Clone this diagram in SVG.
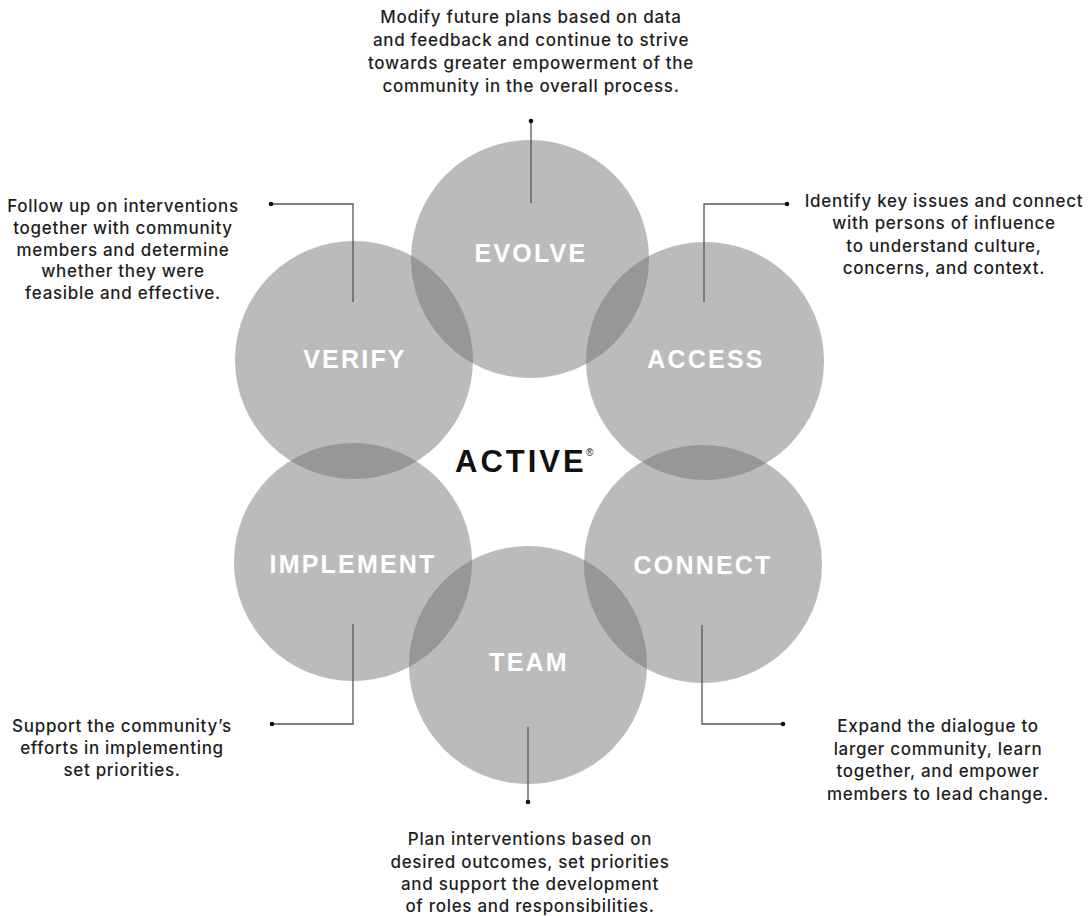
<svg xmlns="http://www.w3.org/2000/svg" width="1092" height="916" viewBox="0 0 1092 916">
  <style>
    .disc { fill: #6e6e6e; fill-opacity: 0.47; }
    .label { font-family: "Liberation Sans", Arial, sans-serif; font-weight: bold; font-size: 25px; letter-spacing: 2.2px; fill: #ffffff; text-anchor: middle; }
    .note { font-family: Inter, "Liberation Sans", sans-serif; font-size: 17px; font-weight: 500; letter-spacing: 0.7px; fill: #1e1e1e; text-anchor: middle; }
    .lead { fill: none; stroke: #555555; stroke-width: 1.3; }
    .dot { fill: #111111; }
    .brand { font-family: "Liberation Sans", Arial, sans-serif; font-weight: bold; font-size: 31px; letter-spacing: 3px; fill: #111111; }
    .reg { font-family: "Liberation Sans", Arial, sans-serif; font-size: 10px; fill: #111111; }
  </style>

  <rect width="1092" height="916" fill="#ffffff"/>

  <!-- six overlapping stage circles -->
  <g id="evolve">
    <circle class="disc" cx="530" cy="259" r="119"/>
    <text class="label" x="531" y="262">EVOLVE</text>
  </g>
  <g id="access">
    <circle class="disc" cx="705" cy="361" r="119"/>
    <text class="label" x="706" y="368">ACCESS</text>
  </g>
  <g id="connect">
    <circle class="disc" cx="703" cy="564" r="119"/>
    <text class="label" x="703" y="574">CONNECT</text>
  </g>
  <g id="team">
    <circle class="disc" cx="528" cy="665" r="119"/>
    <text class="label" x="529" y="671">TEAM</text>
  </g>
  <g id="implement">
    <circle class="disc" cx="353" cy="562" r="119"/>
    <text class="label" x="353" y="573">IMPLEMENT</text>
  </g>
  <g id="verify">
    <circle class="disc" cx="354" cy="360" r="119"/>
    <text class="label" x="355" y="368">VERIFY</text>
  </g>

  <!-- centre mark -->
  <g id="active">
    <text class="brand" x="455" y="472">ACTIVE</text>
    <text class="reg" x="586" y="456">®</text>
  </g>

  <!-- leader lines from circles to descriptions -->
  <g id="connectors">
    <path class="lead" d="M531 121 V203"/>
    <circle class="dot" cx="531" cy="121" r="2.3"/>

    <path class="lead" d="M271 204 H353 V302"/>
    <circle class="dot" cx="271" cy="204" r="2.3"/>

    <path class="lead" d="M787 204 H704 V302"/>
    <circle class="dot" cx="787" cy="204" r="2.3"/>

    <path class="lead" d="M353 624 V724 H272"/>
    <circle class="dot" cx="272" cy="724" r="2.3"/>

    <path class="lead" d="M702 625 V724 H783"/>
    <circle class="dot" cx="783" cy="724" r="2.3"/>

    <path class="lead" d="M528 727 V802"/>
    <circle class="dot" cx="528" cy="802" r="2.3"/>
  </g>

  <!-- descriptions -->
  <g id="evolve-note">
    <text class="note" x="531" y="23">Modify future plans based on data</text>
    <text class="note" x="531" y="46">and feedback and continue to strive</text>
    <text class="note" x="531" y="69">towards greater empowerment of the</text>
    <text class="note" x="531" y="92">community in the overall process.</text>
  </g>
  <g id="verify-note">
    <text class="note" x="123" y="212">Follow up on interventions</text>
    <text class="note" x="123" y="234">together with community</text>
    <text class="note" x="123" y="255.5">members and determine</text>
    <text class="note" x="123" y="277">whether they were</text>
    <text class="note" x="123" y="299">feasible and effective.</text>
  </g>
  <g id="access-note">
    <text class="note" x="944" y="207">Identify key issues and connect</text>
    <text class="note" x="944" y="229">with persons of influence</text>
    <text class="note" x="944" y="251.5">to understand culture,</text>
    <text class="note" x="944" y="273.5">concerns, and context.</text>
  </g>
  <g id="implement-note">
    <text class="note" x="122" y="732">Support the community’s</text>
    <text class="note" x="122" y="754">efforts in implementing</text>
    <text class="note" x="122" y="776">set priorities.</text>
  </g>
  <g id="connect-note">
    <text class="note" x="938" y="732">Expand the dialogue to</text>
    <text class="note" x="938" y="754.5">larger community, learn</text>
    <text class="note" x="938" y="777">together, and empower</text>
    <text class="note" x="938" y="799.5">members to lead change.</text>
  </g>
  <g id="team-note">
    <text class="note" x="530" y="845">Plan interventions based on</text>
    <text class="note" x="530" y="867.5">desired outcomes, set priorities</text>
    <text class="note" x="530" y="890">and support the development</text>
    <text class="note" x="530" y="912">of roles and responsibilities.</text>
  </g>
</svg>
